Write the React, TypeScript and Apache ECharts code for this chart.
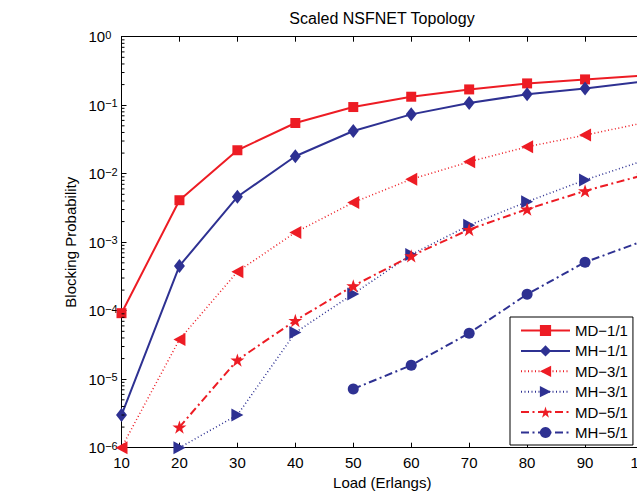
import React, { useEffect, useRef } from "react";
import * as echarts from "echarts";

// ---- data ----
const loads = [10, 20, 30, 40, 50, 60, 70, 80, 90, 100];
const md11 = [9.2e-5, 4.1e-3, 0.022, 0.055, 0.094, 0.133, 0.17, 0.208, 0.238, 0.27];
const mh11 = [3.0e-6, 4.5e-4, 4.6e-3, 0.018, 0.042, 0.0735, 0.108, 0.144, 0.176, 0.221];
const md31 = [1.0e-6, 3.8e-5, 3.7e-4, 1.39e-3, 3.8e-3, 8.3e-3, 0.0149, 0.0247, 0.0366, 0.055];
const mh31 = [null, 1.0e-6, 3.0e-6, 4.8e-5, 1.76e-4, 6.6e-4, 1.77e-3, 3.9e-3, 8.1e-3, 0.0154];
const md51 = [null, 2.0e-6, 1.9e-5, 7.2e-5, 2.3e-4, 6.3e-4, 1.53e-3, 3.04e-3, 5.6e-3, 9.5e-3];
const mh51 = [null, null, null, null, 7.2e-6, 1.6e-5, 4.7e-5, 1.74e-4, 5.1e-4, 1.04e-3];

const seriesNames = ["MD−1/1", "MH−1/1", "MD−3/1", "MH−3/1", "MD−5/1", "MH−5/1"];
const yDecades = [-6, -5, -4, -3, -2, -1, 0];
const minorMultipliers = [2, 3, 4, 5, 6, 7, 8, 9];

const RED = "#ED1C24";
const BLUE = "#2E3192";
const FONT = '"Liberation Sans", Arial, Helvetica, sans-serif';
const STAR =
  "path://M50,0L61.2,34.5L97.6,34.5L68.2,55.9L79.4,90.5L50,69.1L20.6,90.5L31.8,55.9L2.4,34.5L38.8,34.5Z";

function pairs(ys: (number | null)[]) {
  return loads.map((x, i) => [x, ys[i]]).filter((p) => p[1] != null);
}

function mk(
  name: string,
  ys: (number | null)[],
  color: string,
  lineType: any,
  width: number,
  symbol: string,
  size: any,
  rotate = 0
) {
  return {
    name,
    type: "line",
    data: pairs(ys),
    clip: false,
    lineStyle: { color, width, type: lineType },
    itemStyle: { color, borderWidth: 0 },
    symbol,
    symbolSize: size,
    symbolRotate: rotate,
    symbolKeepAspect: true,
    showSymbol: true,
    emphasis: { disabled: true },
  };
}

export default function App() {
  const ref = useRef<HTMLDivElement>(null);
  useEffect(() => {
    if (!ref.current) return;
    const chart = echarts.init(ref.current, undefined, { renderer: "svg" });
    const minorTickValues = yDecades
      .slice(0, -1)
      .flatMap((d) => minorMultipliers.map((m) => m * Math.pow(10, d)));
    const DASHDOT = [8, 3.5, 2, 3.5];
    const DOT = [1, 2.5];
    chart.setOption({
      animation: false,
      backgroundColor: "#fff",
      title: {
        text: "Scaled NSFNET Topology",
        left: 382,
        top: 10,
        padding: 0,
        textAlign: "center",
        textStyle: { fontSize: 16, fontWeight: "normal", fontFamily: FONT, color: "#000" },
      },
      grid: { left: 121.5, top: 36.7, width: 521.5, height: 411, outerBoundsMode: "none" },
      legend: {
        data: seriesNames,
        orient: "vertical",
        left: 510,
        top: 317,
        padding: [6, 5, 5, 10],
        itemWidth: 49,
        itemHeight: 14,
        itemGap: 5.4,
        backgroundColor: "#fff",
        borderColor: "#000",
        borderWidth: 1,
        borderRadius: 0,
        selectedMode: false,
        textStyle: { fontSize: 15, fontFamily: FONT, color: "#000", lineHeight: 14 },
      },
      xAxis: [
        {
          type: "value",
          min: 10,
          max: 100,
          interval: 10,
          position: "bottom",
          axisLine: { show: true, onZero: false, lineStyle: { color: "#000", width: 1 } },
          axisTick: { show: true, inside: true, length: 5, lineStyle: { color: "#000" } },
          splitLine: { show: false },
          axisLabel: { fontSize: 15, fontFamily: FONT, color: "#000", margin: 7 },
          name: "Load (Erlangs)",
          nameLocation: "middle",
          nameGap: 26,
          nameTextStyle: { fontSize: 15, fontFamily: FONT, color: "#000" },
        },
        {
          type: "value",
          min: 10,
          max: 100,
          interval: 10,
          position: "top",
          axisLine: { show: true, onZero: false, lineStyle: { color: "#000", width: 1 } },
          axisTick: { show: true, inside: true, length: 5, lineStyle: { color: "#000" } },
          splitLine: { show: false },
          axisLabel: { show: false },
        },
      ],
      yAxis: {
        type: "log",
        logBase: 10,
        min: 1e-6,
        max: 1,
        splitNumber: 6,
        axisLine: { show: true, onZero: false, lineStyle: { color: "#000", width: 1 } },
        axisTick: { show: true, inside: true, length: 5, lineStyle: { color: "#000" } },
        splitLine: { show: false },
        axisLabel: {
          align: "left",
          margin: 33,
          formatter: (v: number) => {
            const e = Math.round(Math.log10(v));
            return `{b|10}{s|${e < 0 ? "−" + -e : e}}`;
          },
          rich: {
            b: { fontSize: 15, fontFamily: FONT, color: "#000" },
            s: { fontSize: 11, fontFamily: FONT, color: "#000", verticalAlign: "top" },
          },
        },
        name: "Blocking Probability",
        nameLocation: "middle",
        nameGap: 42,
        nameTextStyle: { fontSize: 15, fontFamily: FONT, color: "#000" },
      },
      series: [
        {
          type: "custom",
          silent: true,
          clip: false,
          z: 10,
          data: minorTickValues.map((v) => [10, v]),
          encode: { x: 0, y: 1 },
          renderItem: (params: any, api: any) => {
            const p = api.coord([api.value(0), api.value(1)]);
            return {
              type: "line",
              shape: { x1: p[0], y1: p[1], x2: p[0] + 3, y2: p[1] },
              style: { stroke: "#000", lineWidth: 1 },
            };
          },
        },
        mk(seriesNames[0], md11, RED, "solid", 2, "rect", 10),
        mk(seriesNames[1], mh11, BLUE, "solid", 2, "diamond", [11, 14]),
        mk(seriesNames[2], md31, RED, DOT, 1.5, "triangle", [13, 12], 90),
        mk(seriesNames[3], mh31, BLUE, DOT, 1.5, "triangle", [13, 12], -90),
        mk(seriesNames[4], md51, RED, DASHDOT, 2, STAR, 14),
        mk(seriesNames[5], mh51, BLUE, DASHDOT, 2, "circle", 11),
      ],
    });
    return () => chart.dispose();
  }, []);
  return (
    <div
      ref={ref}
      style={{ position: "absolute", left: 0, top: 0, width: 637, height: 493 }}
    />
  );
}
